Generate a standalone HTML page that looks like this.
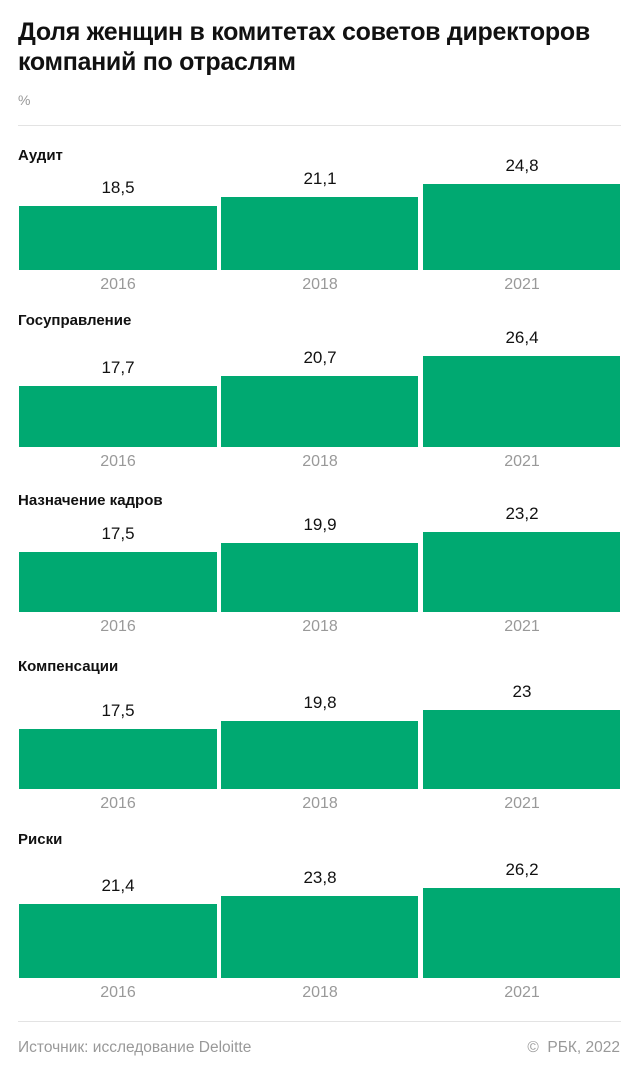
<!DOCTYPE html>
<html><head><meta charset="utf-8"><style>
body{margin:0;width:637px;height:1080px;background:#fff;position:relative;font-family:"Liberation Sans",sans-serif;overflow:hidden}
div{position:absolute}
.t{left:18px;font-size:25px;font-weight:bold;color:#111;line-height:30px;white-space:nowrap;letter-spacing:-0.3px}
.h{left:18px;font-size:15px;font-weight:bold;color:#111}
.b{background:#00a971}
.v{font-size:17px;color:#111;text-align:center;width:198px}
.y{font-size:16px;color:#999;text-align:center;width:198px}
.line{left:18px;width:603px;height:1px;background:#e3e3e3}
</style></head><body>
<div class="t" style="top:17px">Доля женщин в комитетах советов директоров</div>
<div class="t" style="top:47px">компаний по отраслям</div>
<div style="left:18px;top:92px;font-size:14px;color:#999">%</div>
<div class="line" style="top:125px"></div>
<div id="c"></div>
<div class="line" style="top:1021px"></div>
<div style="left:18px;top:1039px;font-size:15.5px;color:#999">Источник: исследование Deloitte</div>
<div style="right:17px;top:1039px;font-size:15.5px;color:#999">©&nbsp; РБК, 2022</div>
<script>
var g=[["Аудит",147,270,[18.5,21.1,24.8],["18,5","21,1","24,8"]],
["Госуправление",312,447,[17.7,20.7,26.4],["17,7","20,7","26,4"]],
["Назначение кадров",492,612,[17.5,19.9,23.2],["17,5","19,9","23,2"]],
["Компенсации",658,789,[17.5,19.8,23],["17,5","19,8","23"]],
["Риски",831,978,[21.4,23.8,26.2],["21,4","23,8","26,2"]]];
var xs=[19,221,423],ws=[198,197,197],yr=["2016","2018","2021"],h="";
g.forEach(function(a){h+='<div class="h" style="top:'+a[1]+'px">'+a[0]+'</div>';
for(var i=0;i<3;i++){var hh=Math.round(a[3][i]*3.45),top=a[2]-hh;
h+='<div class="b" style="left:'+xs[i]+'px;top:'+top+'px;width:'+ws[i]+'px;height:'+hh+'px"></div>';
h+='<div class="v" style="left:'+xs[i]+'px;top:'+(top-28)+'px">'+a[4][i]+'</div>';
h+='<div class="y" style="left:'+xs[i]+'px;top:'+(a[2]+6)+'px">'+yr[i]+'</div>';}});
document.getElementById("c").outerHTML=h;
</script>
</body></html>
